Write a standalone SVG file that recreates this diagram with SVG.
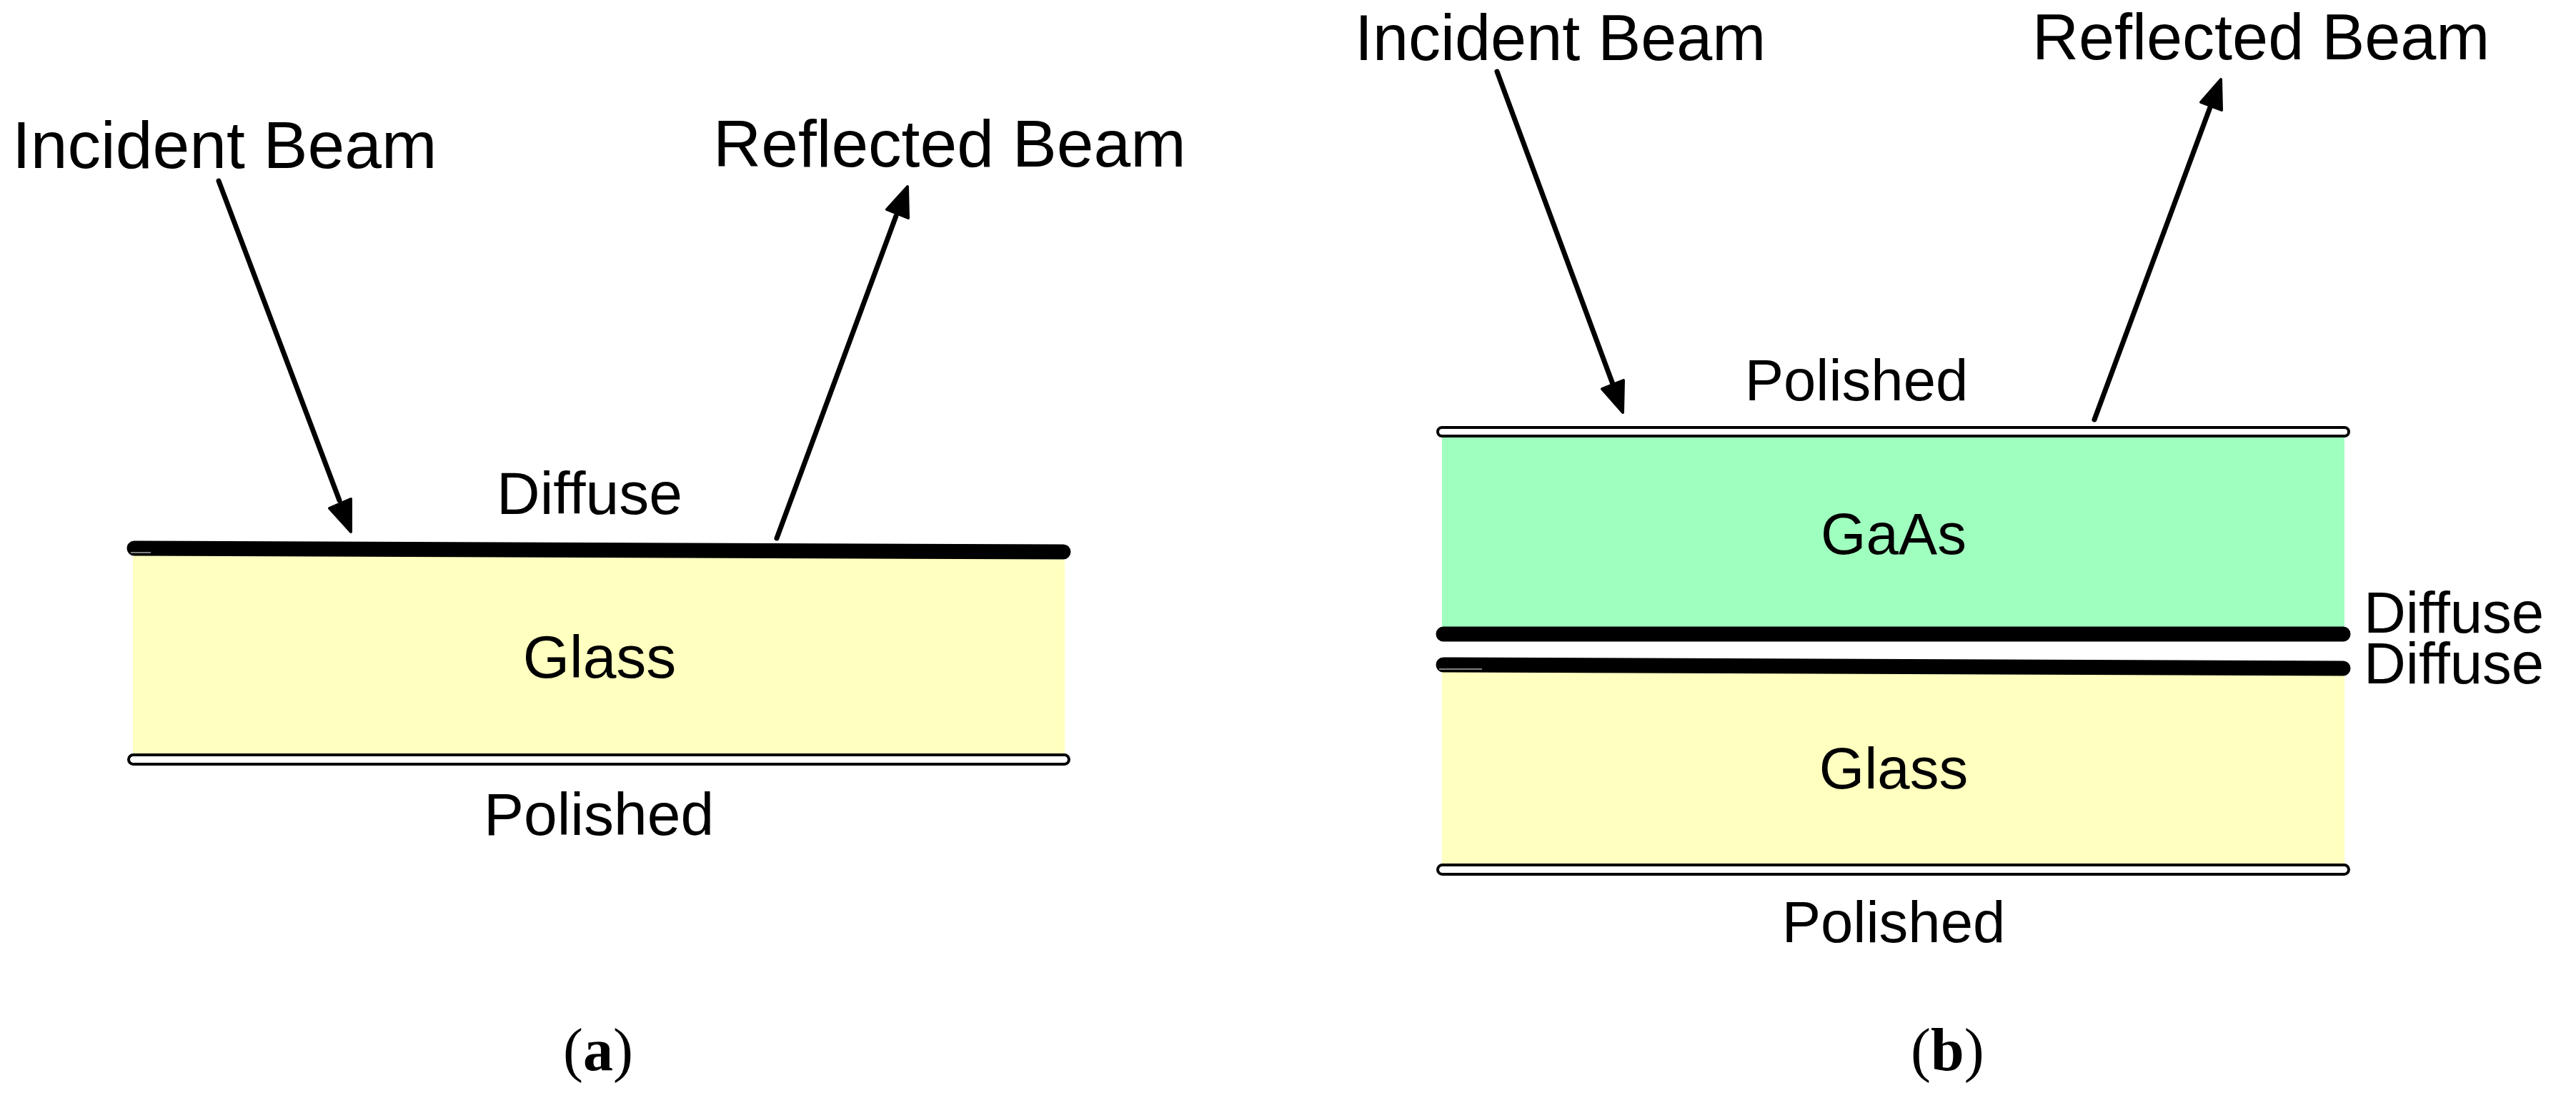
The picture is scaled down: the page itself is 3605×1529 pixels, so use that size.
<svg xmlns="http://www.w3.org/2000/svg" width="3605" height="1529" viewBox="0 0 3605 1529">
<style>
text{font-family:"Liberation Sans",Arial,sans-serif;fill:#000}
.big{font-size:93px}
.bigb{font-size:90px}
.mid{font-size:84px}
.midb{font-size:81.5px}
.cap{font-family:"Liberation Serif","Times New Roman",serif;font-size:84px}
.thick{stroke:#000;stroke-width:21;stroke-linecap:round;fill:none}
.pol{fill:#fff;stroke:#000;stroke-width:4}
.ar{stroke:#000;stroke-width:7;stroke-linecap:round;fill:none}
.hd{fill:#000;stroke:#000;stroke-width:4;stroke-linejoin:round}
.sl{stroke:#fff;stroke-width:1;fill:none}
</style>
<rect width="3605" height="1529" fill="#fff"/>
<g id="panel-a">
<g id="glass-a"><rect x="186" y="770" width="1304" height="286" fill="#ffffbf"/><text class="mid" x="839" y="948" text-anchor="middle">Glass</text></g>
<g id="diffuse-a"><path class="thick" d="M188 767L1488 772"/><path class="sl" d="M183 773H211"/><text class="mid" x="825" y="719" text-anchor="middle">Diffuse</text></g>
<g id="polished-a"><rect class="pol" x="180" y="1056" width="1316" height="13" rx="6.5"/><text class="mid" x="838" y="1168" text-anchor="middle">Polished</text></g>
<text id="incident-a" class="big" x="17" y="235">Incident Beam</text>
<text id="reflected-a" class="big" x="998" y="233">Reflected Beam</text>
</g>
<g id="panel-b">
<g id="gaas"><rect x="2018" y="610" width="1263" height="275" fill="#9fffbf"/><text class="midb" x="2650" y="775" text-anchor="middle">GaAs</text></g>
<g id="glass-b"><rect x="2018" y="935" width="1263" height="275" fill="#ffffbf"/><text class="midb" x="2650" y="1103" text-anchor="middle">Glass</text></g>
<g id="polished-b-top"><rect class="pol" x="2012" y="598" width="1275" height="12" rx="6"/><text class="midb" x="2598" y="560" text-anchor="middle">Polished</text></g>
<g id="diffuse-b-1"><path class="thick" d="M2020 887H3279"/><text class="midb" x="3308" y="885">Diffuse</text></g>
<g id="diffuse-b-2"><path class="thick" d="M2020 930L3279 935"/><path class="sl" d="M2014 936H2074"/><text class="midb" x="3308" y="956">Diffuse</text></g>
<g id="polished-b-bot"><rect class="pol" x="2012" y="1210" width="1275" height="13" rx="6.5"/><text class="midb" x="2650" y="1318" text-anchor="middle">Polished</text></g>
<text id="incident-b" class="bigb" x="1896" y="84">Incident Beam</text>
<text id="reflected-b" class="bigb" x="2844" y="83">Reflected Beam</text>
</g>
<g id="connectors">
<path class="ar" d="M306 253L475 700"/><path class="hd" d="M491 744L491 698L461 711Z"/>
<path class="ar" d="M1087 753L1254 302"/><path class="hd" d="M1270 261L1241 293L1271 305Z"/>
<path class="ar" d="M2095 100L2258 540"/><path class="hd" d="M2271 577L2272 532L2242 544Z"/>
<path class="ar" d="M2931 587L3093 150"/><path class="hd" d="M3108 111L3080 143L3109 154Z"/>
</g>
<text id="cap-a" class="cap" x="788" y="1497"><tspan>(</tspan><tspan font-weight="bold">a</tspan><tspan>)</tspan></text>
<text id="cap-b" class="cap" x="2674" y="1497"><tspan>(</tspan><tspan font-weight="bold">b</tspan><tspan>)</tspan></text>
</svg>
